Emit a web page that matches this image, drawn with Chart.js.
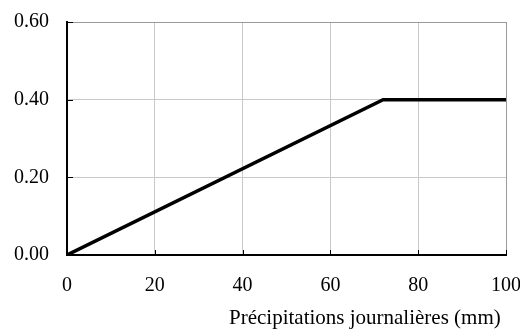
<!DOCTYPE html>
<html>
<head>
<meta charset="utf-8">
<script src="https://cdn.jsdelivr.net/npm/chart.js@4/dist/chart.umd.min.js"></script>
<style>
  html, body { margin: 0; padding: 0; background: #fff; }
  #wrap { width: 520px; height: 329px; }
</style>
</head>
<body>
<div id="wrap"><canvas id="chart"></canvas></div>
<script>
const rainfall = [0, 72, 100];
const coefficient = [0, 0.4, 0.4];
const xTicks = [0, 20, 40, 60, 80, 100];
const yTicks = [0, 0.2, 0.4, 0.6];
const xTitle = "Précipitations journalières (mm) ";

Chart.defaults.font.family = '"Liberation Serif", "Times New Roman", serif';
Chart.defaults.font.size = 20;
Chart.defaults.color = "#000";

// small inward tick marks on the left and bottom axes
const innerTicks = {
  id: "innerTicks",
  beforeDatasetsDraw(chart) {
    const { ctx, chartArea, scales } = chart;
    ctx.save();
    ctx.strokeStyle = "#000";
    ctx.lineWidth = 1;
    ctx.beginPath();
    xTicks.forEach((v) => {
      const px = Math.round(scales.x.getPixelForValue(v)) + 0.5;
      ctx.moveTo(px, chartArea.bottom);
      ctx.lineTo(px, chartArea.bottom - 5);
    });
    yTicks.forEach((v) => {
      const py = Math.round(scales.y.getPixelForValue(v)) + 0.5;
      ctx.moveTo(chartArea.left, py);
      ctx.lineTo(chartArea.left + 6, py);
    });
    ctx.stroke();
    ctx.restore();
  },
};

new Chart(document.getElementById("chart"), {
  type: "line",
  data: {
    datasets: [
      {
        data: rainfall.map((x, i) => ({ x: x, y: coefficient[i] })),
        borderColor: "#000",
        borderWidth: 3.5,
        pointRadius: 0,
        tension: 0,
      },
    ],
  },
  options: {
    responsive: true,
    maintainAspectRatio: false,
    animation: false,
    layout: {
      padding: { top: 22, right: 14, bottom: 0, left: 0 },
    },
    scales: {
      x: {
        type: "linear",
        min: 0,
        max: 100,
        afterBuildTicks: (scale) => {
          scale.ticks = xTicks.map((v) => ({ value: v }));
        },
        afterFit: (scale) => {
          scale.height = 74;
          scale.paddingLeft = 0;
          scale.paddingRight = 0;
        },
        grid: {
          drawTicks: false,
          color: (c) => (c.tick && c.tick.value === 100 ? "#9a9a9a" : "#c8c8c8"),
          lineWidth: 1,
        },
        border: {
          color: "#000",
          width: 2,
        },
        ticks: {
          padding: 19,
          maxRotation: 0,
        },
        title: {
          display: true,
          text: xTitle,
          align: "end",
          font: { size: 21 },
          padding: { top: 0, bottom: -2 },
        },
      },
      y: {
        min: 0,
        max: 0.6,
        afterBuildTicks: (scale) => {
          scale.ticks = yTicks.map((v) => ({ value: v }));
        },
        afterFit: (scale) => {
          scale.width = 67;
          scale.paddingTop = 0;
          scale.paddingBottom = 0;
        },
        grid: {
          drawTicks: false,
          color: (c) => (c.tick && c.tick.value === 0.6 ? "#9a9a9a" : "#c8c8c8"),
          lineWidth: 1,
        },
        border: {
          color: "#000",
          width: 2,
        },
        ticks: {
          padding: 18,
          callback: (value) => value.toFixed(2),
        },
      },
    },
    plugins: {
      legend: { display: false },
      tooltip: { enabled: false },
    },
  },
  plugins: [innerTicks],
});
</script>
</body>
</html>
